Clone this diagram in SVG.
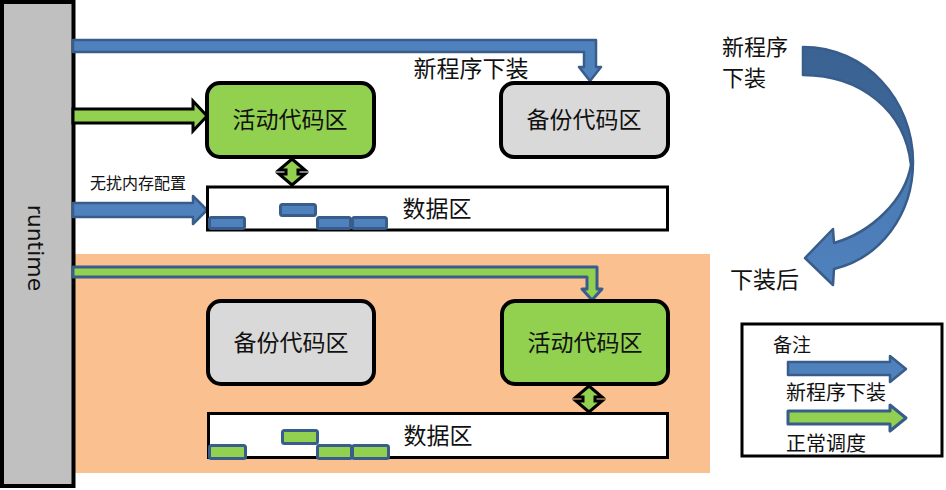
<svg xmlns="http://www.w3.org/2000/svg" width="946" height="490" viewBox="0 0 946 490">
<defs>
<style>
.t{font-family:"Noto Sans CJK SC","Noto Sans",sans-serif;fill:#111}
.box{stroke:#000;stroke-width:4}
.act{fill:#92d050}
.bak{fill:#d9d9d9}
.data{fill:#fff;stroke:#000;stroke-width:3}
.blk{stroke:#385d8a;stroke-width:3}
.blue{fill:#4f81bd;stroke:#385d8a;stroke-width:2.5;stroke-linejoin:round}
.green{fill:#92d050;stroke:#000;stroke-width:3}
.gb{fill:#92d050;stroke:#385d8a;stroke-width:3;stroke-linejoin:round}
.dia{fill:#92d050;stroke:#000;stroke-width:3;stroke-linejoin:miter}
</style>
<linearGradient id="cg" x1="0" y1="47" x2="0" y2="285" gradientUnits="userSpaceOnUse">
<stop offset="0" stop-color="#3a6394"/>
<stop offset="0.45" stop-color="#3e6799"/>
<stop offset="0.55" stop-color="#4a7ab4"/>
<stop offset="1" stop-color="#4f81bd"/>
</linearGradient>
</defs>

<rect id="lower-panel" x="74" y="254" width="636" height="219" fill="#fac090"/>

<g id="runtime">
<rect x="2" y="2" width="71.5" height="484" fill="#c0c0c0" stroke="#000" stroke-width="4"/>
<text transform="translate(28,248) rotate(90)" text-anchor="middle" font-family="DejaVu Sans,sans-serif" font-size="22" fill="#111">runtime</text>
</g>

<g id="connectors">
<path class="blue" d="M73,40 L596,40 L596,67 L601,67 L590,81 L579,67 L584,67 L584,52 L73,52 Z"/>
<path class="green" d="M73,109 L193,109 L193,101 L207,116 L193,131 L193,123 L73,123 Z"/>
<path class="blue" d="M73,203 L193,203 L193,196 L207,210 L193,224 L193,217 L73,217 Z"/>
<path class="dia" d="M292,159 L305,170 L298,170 L298,174 L305,174 L292,185 L279,174 L286,174 L286,170 L279,170 Z"/>
<path class="gb" d="M73,267 L597,267 L597,289 L602,289 L592,300 L582,289 L587,289 L587,277 L73,277 Z"/>
<path class="dia" d="M589,386 L602,397 L595,397 L595,401 L602,401 L589,412 L576,401 L583,401 L583,397 L576,397 Z"/>
<path d="M803,47 C866,47 913,100 913,162 C913,215 880,258 834,269 L833,285 L805,258 L833,229 L834,243 C872,232 905,200 911,165 C905,110 860,75 803,75 Z" fill="url(#cg)" stroke="#385d8a" stroke-width="2.5" stroke-linejoin="round"/>
</g>

<text class="t" x="471" y="77" font-size="23" text-anchor="middle">新程序下装</text>
<text class="t" x="90" y="189" font-size="16">无扰内存配置</text>
<text class="t" x="722" y="55" font-size="22">新程序</text>
<text class="t" x="722" y="86" font-size="22">下装</text>
<text class="t" x="730" y="288" font-size="23">下装后</text>

<g id="active-top">
<rect class="box act" x="207" y="83" width="167" height="74" rx="13"/>
<text class="t" x="290" y="128" font-size="23" text-anchor="middle">活动代码区</text>
</g>
<g id="backup-top">
<rect class="box bak" x="501" y="83" width="167" height="74" rx="13"/>
<text class="t" x="584" y="128" font-size="23" text-anchor="middle">备份代码区</text>
</g>
<g id="data-top">
<rect class="data" x="207.5" y="187" width="460" height="43"/>
<rect class="blk" x="209.5" y="217.5" width="35" height="11" rx="2" fill="#4f81bd"/>
<rect class="blk" x="280.5" y="204.5" width="35" height="11" rx="2" fill="#4f81bd"/>
<rect class="blk" x="317.5" y="217.5" width="33" height="11" rx="2" fill="#4f81bd"/>
<rect class="blk" x="352.5" y="217.5" width="34" height="11" rx="2" fill="#4f81bd"/>
<text class="t" x="437" y="217" font-size="23" text-anchor="middle">数据区</text>
</g>

<g id="backup-bottom">
<rect class="box bak" x="208" y="301" width="166" height="83" rx="13"/>
<text class="t" x="291" y="351" font-size="23" text-anchor="middle">备份代码区</text>
</g>
<g id="active-bottom">
<rect class="box act" x="502" y="301" width="166" height="83" rx="13"/>
<text class="t" x="585" y="351" font-size="23" text-anchor="middle">活动代码区</text>
</g>
<g id="data-bottom">
<rect class="data" x="208.5" y="413.5" width="459" height="44"/>
<rect class="blk" x="209.5" y="445.5" width="36" height="13" rx="2" fill="#92d050"/>
<rect class="blk" x="282.5" y="430.5" width="35" height="13" rx="2" fill="#92d050"/>
<rect class="blk" x="317.5" y="445.5" width="34" height="13" rx="2" fill="#92d050"/>
<rect class="blk" x="352.5" y="445.5" width="36" height="13" rx="2" fill="#92d050"/>
<text class="t" x="438" y="444" font-size="23" text-anchor="middle">数据区</text>
</g>

<g id="legend">
<rect x="742" y="324" width="200" height="132" fill="#fff" stroke="#000" stroke-width="3"/>
<text class="t" x="773" y="352" font-size="19">备注</text>
<path class="blue" d="M788,362 L890,362 L890,356 L906,369 L890,382 L890,375 L788,375 Z"/>
<text class="t" x="786" y="400" font-size="20">新程序下装</text>
<path class="gb" d="M788,411 L890,411 L890,405 L906,418 L890,431 L890,424 L788,424 Z"/>
<text class="t" x="786" y="451" font-size="20">正常调度</text>
</g>
</svg>
